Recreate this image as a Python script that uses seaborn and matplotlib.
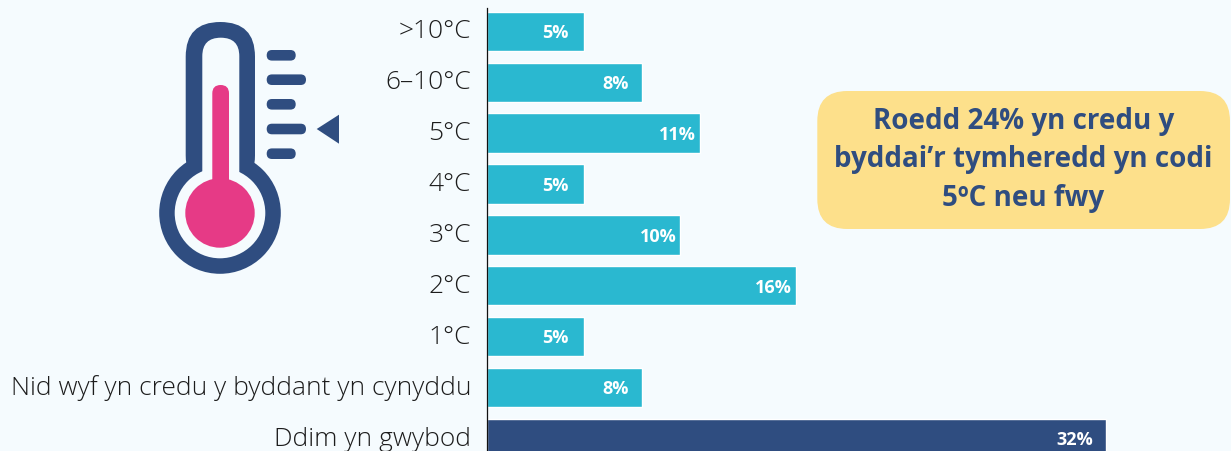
import matplotlib
matplotlib.use("Agg")
import matplotlib.pyplot as plt
from matplotlib.patches import Circle, FancyBboxPatch, Polygon
from matplotlib.transforms import ScaledTranslation
import seaborn as sns

# values
categories = [">10°C", "6–10°C", "5°C", "4°C", "3°C", "2°C", "1°C",
              "Nid wyf yn credu y byddant yn cynyddu", "Ddim yn gwybod"]
percent = [5, 8, 11, 5, 10, 16, 5, 8, 32]
callout = "Roedd 24% yn credu y\nbyddai’r tymheredd yn codi\n5ºC neu fwy"

# gap between bar end and its label, in pixels (not uniform in the original)
label_inset = [15, 13, 4, 15, 4, 4, 15, 13, 12]

BG = "#F5FBFE"
TEAL = "#2AB8D0"
NAVY = "#2F4D80"
PINK = "#E63A86"
YELLOW = "#FDE08B"

sns.set_theme(style="white")
plt.rcParams["font.family"] = ["Open Sans", "DejaVu Sans"]

fig = plt.figure(figsize=(12.31, 4.52), dpi=100, facecolor=BG)

# bar chart, axes runs from the y axis line to the right edge
ax = fig.add_axes([487 / 1231, 0, 1 - 487 / 1231, 1], facecolor="none")
palette = [NAVY if c == "Ddim yn gwybod" else TEAL for c in categories]
sns.barplot(x=percent, y=categories, hue=categories, palette=palette,
            legend=False, width=0.77, saturation=1, ax=ax)
ax.set_xlim(0, 744 / 19.33)
ax.set_ylim(8.245, -0.634)
ax.set_xticks([])
ax.tick_params(axis="y", length=0, pad=11.5, labelsize=19, labelcolor="#1c1c1c")
# labels sit a little above the bar centres, keeps the descenders inside the figure
shift_up = ScaledTranslation(0, 3.5 / 100, fig.dpi_scale_trans)
for lab in ax.get_yticklabels():
    lab.set_fontweight(300)
    lab.set_transform(lab.get_transform() + shift_up)
for side in ["top", "right", "bottom"]:
    ax.spines[side].set_visible(False)
ax.spines["left"].set_color("#111111")
ax.spines["left"].set_linewidth(0.9)
ax.spines["left"].set_bounds(-0.45, 8.245)

for i, v in enumerate(percent):
    ax.annotate(f"{v}%", (v, i), xytext=(-label_inset[i] * 0.72, -0.5), textcoords="offset points",
                ha="right", va="center", color="white", fontsize=13, fontweight="bold")

# overlay in pixel coordinates for the icon and the callout
over = fig.add_axes([0, 0, 1, 1], facecolor="none")
over.set_xlim(0, 1231)
over.set_ylim(451, -1)
over.axis("off")


def pill(x0, y0, x1, y1, color, r=None):
    if r is None:
        r = min(x1 - x0, y1 - y0) / 2
    over.add_patch(FancyBboxPatch((x0, y0), x1 - x0, y1 - y0, linewidth=0, facecolor=color,
                                  boxstyle=f"round,pad=0,rounding_size={r}"))


# thermometer
over.add_patch(Circle((220, 213), 60.8, color=NAVY, lw=0))
pill(185.7, 22, 255, 190, NAVY)
over.add_patch(Circle((220, 213), 45.3, color=BG, lw=0))
pill(202.3, 37.7, 239.3, 200, BG)
over.add_patch(Circle((220, 213), 34.7, color=PINK, lw=0))
pill(212.3, 85, 229, 200, PINK)
for y, x1 in zip([55.3, 79.7, 104.3, 129, 153.7], [295.7, 306, 295.7, 306, 295.7]):
    pill(266.7, y - 5.3, x1, y + 5.3, NAVY)
over.add_patch(Polygon([(316.7, 129), (339, 114.7), (339, 143.7)], color=NAVY, lw=0))

# callout box
pill(817.3, 91, 1230, 229, YELLOW, r=30)
over.text(1023.5, 159, callout, ha="center", va="center", color=NAVY, fontsize=20,
          fontweight="bold", linespacing=1.42)

fig.savefig("out.png", dpi=100, facecolor=BG)
